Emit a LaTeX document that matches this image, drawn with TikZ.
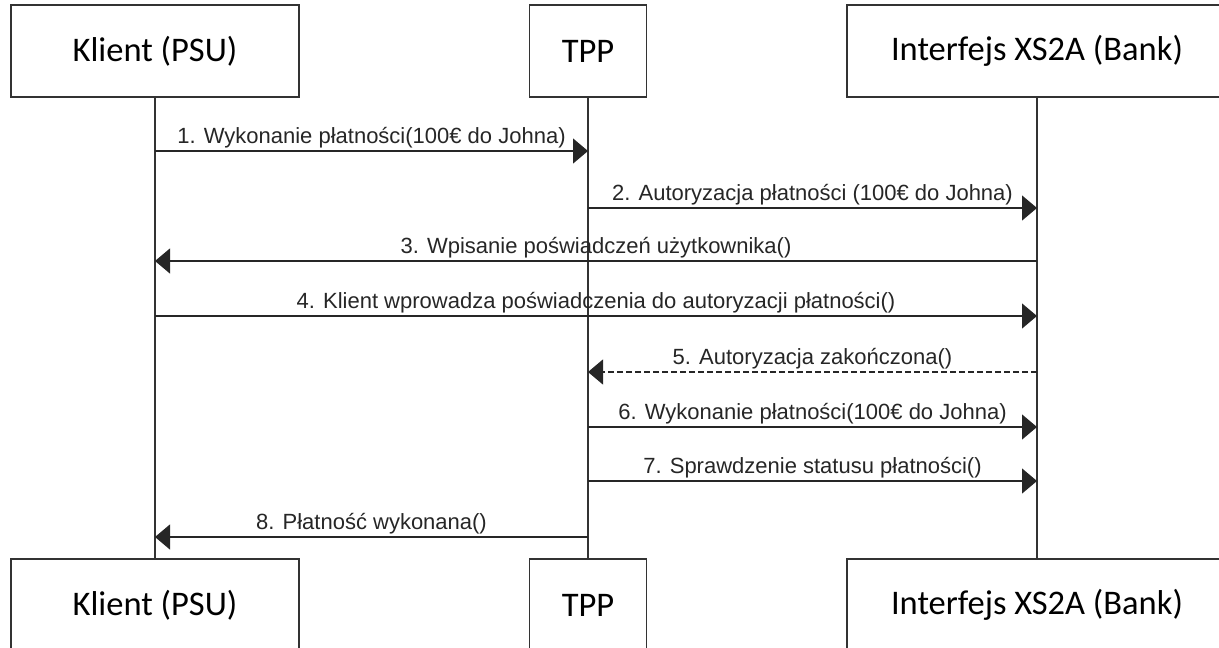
\documentclass[tikz,border=0pt]{standalone}
\usepackage{fontspec}
\setmainfont{Liberation Sans}
\newfontfamily\boxfont{Carlito}
\usetikzlibrary{arrows.meta, positioning}

\begin{document}
\begin{tikzpicture}[x=1pt, y=-1pt]
        \tikzstyle{actor} = [draw = black!80, line width = 1.2pt, minimum height = 92pt, inner sep = 0pt, font = \boxfont\fontsize{34.5}{40}\selectfont]
        \tikzstyle{life} = [draw = black!80, line width = 1.2pt]
        \tikzstyle{msg} = [-{Triangle[length = 15pt, width = 25pt]}, line width = 1.2pt, black!85]
        \tikzstyle{lbl} = [midway, anchor = base, yshift = 8pt, font = \fontsize{22}{26}\selectfont, text = black!85]
        \useasboundingbox (0,0) rectangle (1219,648);
        % actors, top row and bottom row
        \node[actor, minimum width = 288pt] (k) at (155,51) {Klient (PSU)};
        \node[actor, minimum width = 117pt] (t) at (588,51) {TPP};
        \node[actor, minimum width = 380pt] (i) at (1037,51) {Interfejs XS2A (Bank)};
        \node[actor, minimum width = 288pt] (kb) at (155,605) {Klient (PSU)};
        \node[actor, minimum width = 117pt] (tb) at (588,605) {TPP};
        \node[actor, minimum width = 380pt] (ib) at (1037,605) {Interfejs XS2A (Bank)};
        \path (k) edge [life] (kb) (t) edge [life] (tb) (i) edge [life] (ib);
        % message rows
        \coordinate (m1) at (0,151);
        \coordinate (m2) at (0,208);
        \coordinate (m3) at (0,261);
        \coordinate (m4) at (0,316);
        \coordinate (m5) at (0,372);
        \coordinate (m6) at (0,427);
        \coordinate (m7) at (0,481);
        \coordinate (m8) at (0,537);
        \draw[msg] (k |- m1) -- (t |- m1) node[lbl] {1. Wykonanie płatności(100€ do Johna)};
        \draw[msg] (t |- m2) -- (i |- m2) node[lbl] {2. Autoryzacja płatności (100€ do Johna)};
        \draw[msg] (i |- m3) -- (k |- m3) node[lbl] {3. Wpisanie poświadczeń użytkownika()};
        \draw[msg] (k |- m4) -- (i |- m4) node[lbl] {4. Klient wprowadza poświadczenia do autoryzacji płatności()};
        \draw[msg, dash pattern = on 6pt off 3pt] (i |- m5) -- (t |- m5) node[lbl] {5. Autoryzacja zakończona()};
        \draw[msg] (t |- m6) -- (i |- m6) node[lbl] {6. Wykonanie płatności(100€ do Johna)};
        \draw[msg] (t |- m7) -- (i |- m7) node[lbl] {7. Sprawdzenie statusu płatności()};
        \draw[msg] (t |- m8) -- (k |- m8) node[lbl] {8. Płatność wykonana()};
      \end{tikzpicture}
\end{document}
